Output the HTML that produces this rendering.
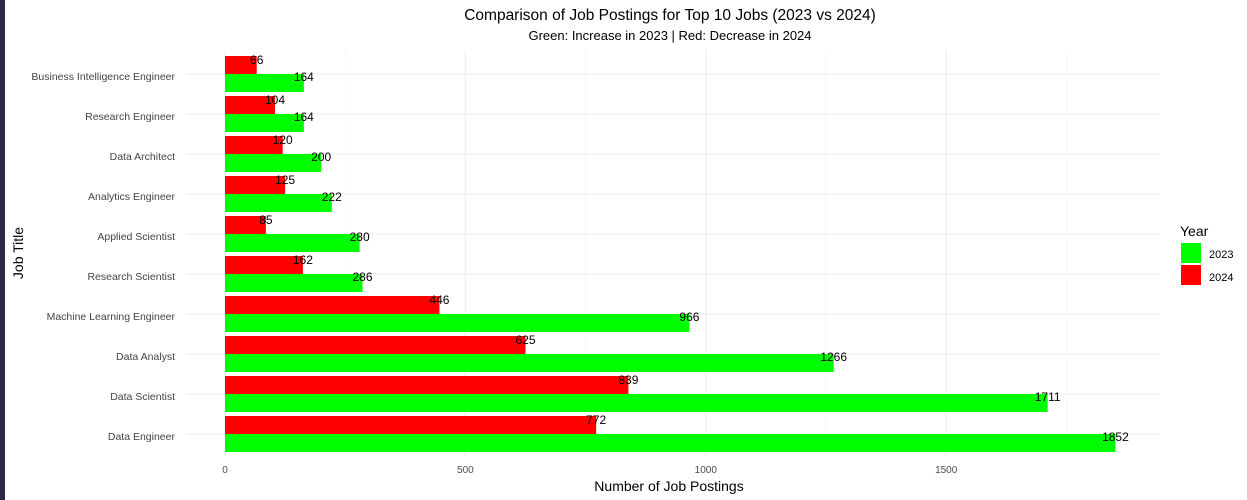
<!DOCTYPE html>
<html><head><meta charset="utf-8"><style>
body{margin:0;background:#fff;font-family:"Liberation Sans",sans-serif}
#wrap{position:relative;width:1247px;height:500px;overflow:hidden}
#strip{position:absolute;left:0;top:0;width:5px;height:500px;background:#2a2a48}
</style></head><body>
<div id="wrap">
<div id="strip"></div>
<svg id="svg" width="1247" height="500" style="position:absolute;left:0;top:0">
<text x="670" y="20" text-anchor="middle" font-size="15.5" fill="#000">Comparison of Job Postings for Top 10 Jobs (2023 vs 2024)</text>
<text x="670" y="40" text-anchor="middle" font-size="13" fill="#000">Green: Increase in 2023 | Red: Decrease in 2024</text>
<text x="669" y="491" text-anchor="middle" font-size="14" fill="#000">Number of Job Postings</text>
<text transform="translate(23,253) rotate(-90)" text-anchor="middle" font-size="14" fill="#000">Job Title</text>
<g id="grid"></g><g id="bars"></g><g id="labels"></g>
<text x="1180" y="236" font-size="14" fill="#000">Year</text>
<rect x="1181" y="243" width="20" height="20" fill="#00ff00"/>
<text x="1209" y="258" font-size="11" fill="#000">2023</text>
<rect x="1181" y="265" width="20" height="20" fill="#ff0000"/>
<text x="1209" y="281" font-size="11" fill="#000">2024</text>
</svg>
</div>
<script>
const categories=["Business Intelligence Engineer","Research Engineer","Data Architect","Analytics Engineer","Applied Scientist","Research Scientist","Machine Learning Engineer","Data Analyst","Data Scientist","Data Engineer"];
const values2023=[164,164,200,222,280,286,966,1266,1711,1852];
const values2024=[66,104,120,125,85,162,446,625,839,772];
const xTicks=[0,500,1000,1500];
const xMinor=[250,750,1250,1750];
const NS="http://www.w3.org/2000/svg";
const x0=225,scale=0.4808,y0=74,step=40,bh=18,panelL=186,panelR=1160,panelT=50,panelB=456;
const xs=v=>x0+v*scale, ys=i=>y0+i*step;
function mk(tag,attrs,parent){const e=document.createElementNS(NS,tag);for(const k in attrs)e.setAttribute(k,attrs[k]);document.getElementById(parent).appendChild(e);return e;}
xMinor.forEach(v=>{const l=mk('line',{x1:xs(v),x2:xs(v),y1:panelT,y2:panelB,stroke:'#f2f2f2','stroke-width':0.6},'grid');
});
xTicks.forEach(v=>{const l=mk('line',{x1:xs(v),x2:xs(v),y1:panelT,y2:panelB,stroke:'#ebebeb','stroke-width':1},'grid');

const t=mk('text',{x:xs(v),y:473,'text-anchor':'middle','font-size':10,fill:'#4d4d4d'},'grid');t.textContent=v;
});
categories.forEach((c,i)=>{const y=ys(i);
const l=mk('line',{x1:panelL,x2:panelR,y1:y,y2:y,stroke:'#ebebeb','stroke-width':1},'grid');

const t=mk('text',{x:175,y:y+6,'text-anchor':'end','font-size':10.5,fill:'#444'},'labels');t.textContent=c;

const r=mk('rect',{x:x0,y:y-bh,width:xs(values2024[i])-x0,height:bh,fill:'#ff0000'},'bars');

const g=mk('rect',{x:x0,y:y,width:xs(values2023[i])-x0,height:bh,fill:'#00ff00'},'bars');

const a=mk('text',{x:xs(values2024[i]),y:y-10,'text-anchor':'middle','font-size':12,fill:'#000'},'labels');a.textContent=values2024[i];

const b=mk('text',{x:xs(values2023[i]),y:y+7,'text-anchor':'middle','font-size':12,fill:'#000'},'labels');b.textContent=values2023[i];

});
</script>
</body></html>
